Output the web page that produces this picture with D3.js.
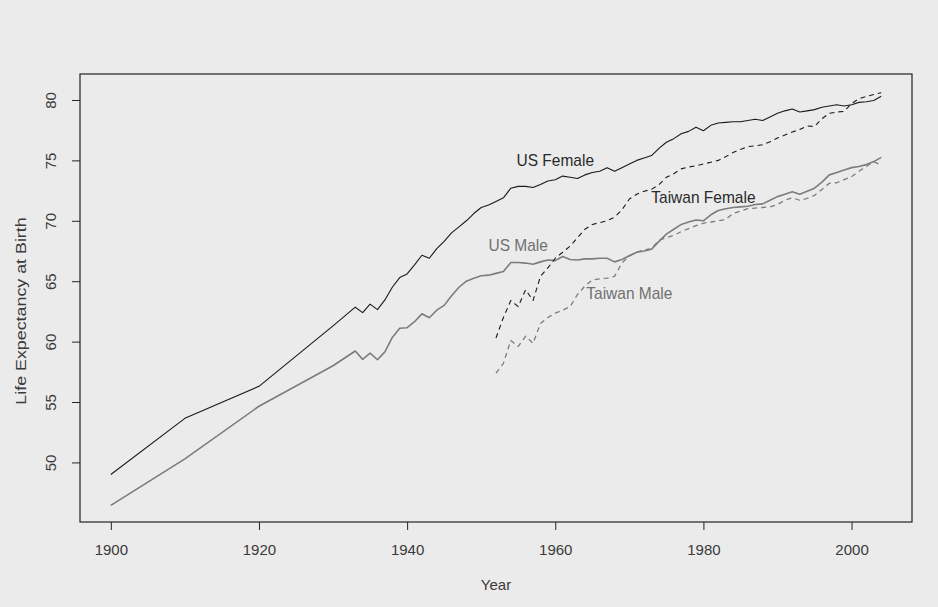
<!DOCTYPE html>
<html>
<head>
<meta charset="utf-8">
<script src="https://cdn.jsdelivr.net/npm/d3@7"></script>
<style>
  html, body { margin: 0; padding: 0; background: #ebebeb; }
  svg { display: block; }
  text { font-family: "Liberation Sans", Arial, sans-serif; }
</style>
</head>
<body>
<svg id="chart" width="938" height="607"></svg>
<script>
// Life expectancy at birth, United States (1900-2004) and Taiwan (1952-2004)
const usYears = [1900, 1910, 1920, 1930,
  1933, 1934, 1935, 1936, 1937, 1938, 1939, 1940, 1941, 1942, 1943, 1944, 1945, 1946, 1947, 1948, 1949,
  1950, 1951, 1952, 1953, 1954, 1955, 1956, 1957, 1958, 1959, 1960, 1961, 1962, 1963, 1964, 1965, 1966,
  1967, 1968, 1969, 1970, 1971, 1972, 1973, 1974, 1975, 1976, 1977, 1978, 1979, 1980, 1981, 1982, 1983,
  1984, 1985, 1986, 1987, 1988, 1989, 1990, 1991, 1992, 1993, 1994, 1995, 1996, 1997, 1998, 1999, 2000,
  2001, 2002, 2003, 2004];

const usFemale = [49.0, 53.65, 56.3, 61.3,
  62.85, 62.4, 63.1, 62.65, 63.45, 64.5, 65.3, 65.6, 66.35, 67.15, 66.9, 67.7, 68.3, 69.0, 69.5, 70.0, 70.6,
  71.1, 71.3, 71.6, 71.9, 72.7, 72.85, 72.85, 72.75, 73.0, 73.3, 73.4, 73.7, 73.6, 73.5, 73.8, 74.0, 74.1,
  74.4, 74.1, 74.4, 74.7, 75.0, 75.2, 75.4, 76.0, 76.5, 76.8, 77.2, 77.4, 77.75, 77.45, 77.9, 78.1, 78.15,
  78.2, 78.2, 78.3, 78.4, 78.3, 78.6, 78.9, 79.1, 79.25, 79.0, 79.1, 79.2, 79.4, 79.5, 79.6, 79.5, 79.6,
  79.8, 79.85, 79.95, 80.3];

const usMale = [46.45, 50.3, 54.65, 58.0,
  59.22, 58.53, 59.05, 58.5, 59.15, 60.35, 61.1, 61.15, 61.65, 62.3, 61.98, 62.6, 63.0, 63.8, 64.5, 65.0, 65.25,
  65.45, 65.5, 65.65, 65.8, 66.55, 66.55, 66.5, 66.4, 66.6, 66.75, 66.7, 67.05, 66.8, 66.75, 66.85, 66.85, 66.9,
  66.9, 66.6, 66.8, 67.1, 67.4, 67.5, 67.65, 68.3, 68.9, 69.3, 69.7, 69.9, 70.07, 70.0, 70.5, 70.85, 71.0,
  71.1, 71.15, 71.2, 71.35, 71.4, 71.7, 72.0, 72.2, 72.4, 72.2, 72.45, 72.7, 73.2, 73.8, 74.0, 74.2, 74.4,
  74.5, 74.65, 74.9, 75.25];

const twYears = [1952, 1953, 1954, 1955, 1956, 1957, 1958, 1959, 1960, 1961, 1962, 1963, 1964, 1965, 1966,
  1967, 1968, 1969, 1970, 1971, 1972, 1973, 1974, 1975, 1976, 1977, 1978, 1979, 1980, 1981, 1982, 1983,
  1984, 1985, 1986, 1987, 1988, 1989, 1990, 1991, 1992, 1993, 1994, 1995, 1996, 1997, 1998, 1999, 2000,
  2001, 2002, 2003, 2004];

const twFemale = [60.3, 62.0, 63.4, 62.9, 64.3, 63.4, 65.4, 66.1, 66.9, 67.4, 67.9, 68.6, 69.3, 69.7, 69.85,
  70.0, 70.3, 70.9, 71.8, 72.2, 72.45, 72.6, 73.0, 73.6, 73.9, 74.3, 74.45, 74.55, 74.7, 74.85, 75.0, 75.3,
  75.65, 75.9, 76.15, 76.2, 76.3, 76.55, 76.85, 77.1, 77.35, 77.55, 77.85, 77.8, 78.45, 78.9, 79.0, 79.05, 79.7,
  80.1, 80.3, 80.45, 80.6];

const twMale = [57.4, 58.2, 60.1, 59.6, 60.45, 59.85, 61.5, 62.0, 62.35, 62.6, 62.9, 63.9, 64.6, 65.1, 65.2,
  65.25, 65.4, 66.5, 67.1, 67.4, 67.6, 67.7, 68.4, 68.6, 68.8, 69.1, 69.35, 69.6, 69.8, 69.9, 70.0, 70.1,
  70.6, 70.8, 71.0, 71.05, 71.1, 71.15, 71.35, 71.7, 71.9, 71.7, 71.85, 72.1, 72.6, 73.1, 73.15, 73.4, 73.65,
  74.1, 74.5, 74.9, 74.6];

const xTicks = [1900, 1920, 1940, 1960, 1980, 2000];
const yTicks = [50, 55, 60, 65, 70, 75, 80];

// In-plot series labels, placed in data coordinates
const labelText = ["US Female", "US Male", "Taiwan Female", "Taiwan Male"];
const labelX = [1960, 1955, 1980, 1970];
const labelY = [75, 68, 72, 64];

// Plot region
const box = { left: 80, right: 912, top: 74, bottom: 522 };
const xDomain = [1895.84, 2008.16];
const yDomain = [45.07, 82.15];

const svg = d3.select("#chart");
const x = d3.scaleLinear().domain(xDomain).range([box.left, box.right]);
const y = d3.scaleLinear().domain(yDomain).range([box.bottom, box.top]);

svg.append("rect").attr("x", 0).attr("y", 0).attr("width", 938).attr("height", 607).attr("fill", "#ebebeb");

const line = d3.line().x(d => x(d[0])).y(d => y(d[1]));

const series = [
  { yrs: usYears, vals: usFemale, color: "#1a1a1a", width: 1.1, dash: null },
  { yrs: usYears, vals: usMale,   color: "#7c7c7c", width: 1.6, dash: null },
  { yrs: twYears, vals: twFemale, color: "#1a1a1a", width: 1.1, dash: "5,4" },
  { yrs: twYears, vals: twMale,   color: "#7c7c7c", width: 1.3, dash: "5,4" }
];

series.forEach(s => {
  svg.append("path")
    .datum(d3.zip(s.yrs, s.vals))
    .attr("d", line)
    .attr("fill", "none")
    .attr("stroke", s.color)
    .attr("stroke-width", s.width)
    .attr("stroke-dasharray", s.dash)
    .attr("stroke-linejoin", "round");
});

// Series labels
const labelColor = ["#2a2a2a", "#707070", "#2a2a2a", "#707070"];
labelText.forEach((t, i) => {
  svg.append("text")
    .attr("transform", `translate(${x(labelX[i])},${y(labelY[i])}) scale(1,1.08)`)
    .attr("dy", "0.36em")
    .attr("text-anchor", "middle")
    .attr("font-size", 15.5)
    .attr("fill", labelColor[i])
    .text(t);
});

// Axes
const xAxis = svg.append("g")
  .attr("transform", `translate(0,${box.bottom})`)
  .call(d3.axisBottom(x).tickValues(xTicks).tickFormat(d3.format("d")).tickSize(8).tickPadding(14));
xAxis.select(".domain").remove();
xAxis.selectAll("line").attr("stroke", "#222");
xAxis.selectAll("text").attr("font-size", 15).attr("fill", "#3a3a3a");

const yAxis = svg.append("g")
  .attr("transform", `translate(${box.left},0)`)
  .call(d3.axisLeft(y).tickValues(yTicks).tickSize(8));
yAxis.select(".domain").remove();
yAxis.selectAll("line").attr("stroke", "#222");
yAxis.selectAll("text")
  .attr("transform", "rotate(-90)")
  .attr("x", 0)
  .attr("y", -29)
  .attr("dy", "0.35em")
  .attr("text-anchor", "middle")
  .attr("font-size", 15)
  .attr("fill", "#3a3a3a");

// Plot frame
svg.append("rect")
  .attr("x", box.left).attr("y", box.top)
  .attr("width", box.right - box.left).attr("height", box.bottom - box.top)
  .attr("fill", "none").attr("stroke", "#222").attr("stroke-width", 1.2);

// Axis titles
svg.append("text")
  .attr("x", (box.left + box.right) / 2)
  .attr("y", 585)
  .attr("dy", "0.35em")
  .attr("text-anchor", "middle")
  .attr("font-size", 15)
  .attr("fill", "#3a3a3a")
  .text("Year");

svg.append("text")
  .attr("transform", `translate(21,311) rotate(-90) scale(1.19,1)`)
  .attr("text-anchor", "middle")
  .attr("dy", "0.35em")
  .attr("font-size", 15)
  .attr("fill", "#3a3a3a")
  .text("Life Expectancy at Birth");
</script>
</body>
</html>
